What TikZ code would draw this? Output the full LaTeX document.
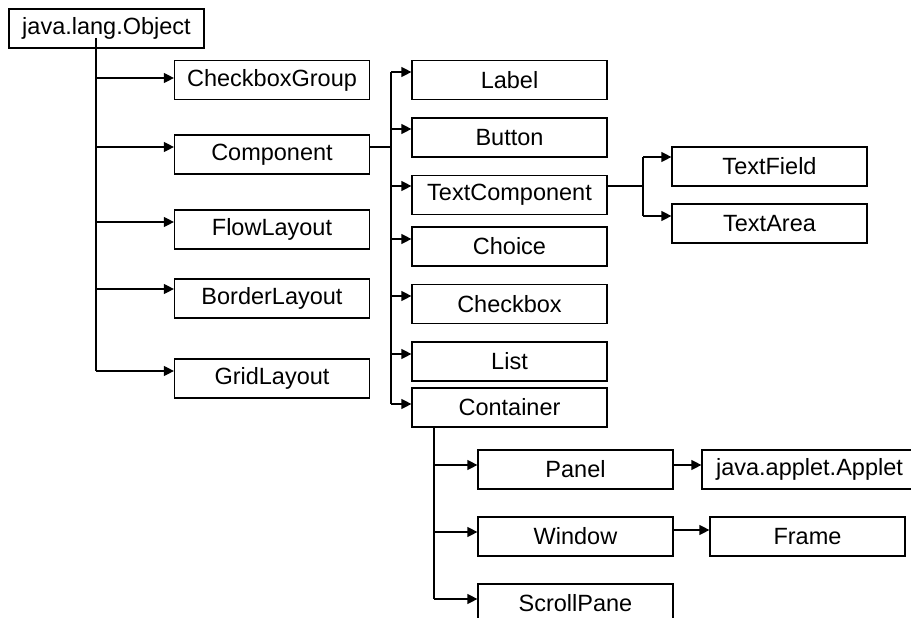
\documentclass[tikz,border=0pt]{standalone}
\usepackage{fontspec}
\setmainfont{Liberation Sans}
\usetikzlibrary{arrows.meta}
\begin{document}
\begin{tikzpicture}[x=1pt,y=-1pt,
  cls/.style={draw, line width=1.2pt, minimum width=195pt, minimum height=39pt,
    inner sep=0pt, font=\fontsize{23.5}{28}\selectfont},
  link/.style={line width=1.2pt},
  arr/.style={link, -{Triangle[length=10pt,width=10pt]}}]
\useasboundingbox (0,0) rectangle (911,618);
\clip (0,0) rectangle (911,618);

% class boxes
\node[cls] (obj)    at (106.5,28.5) {java.lang.Object};
\node[cls] (cbg)    at (272,80)     {CheckboxGroup};
\node[cls] (comp)   at (272,154.5)  {Component};
\node[cls] (flow)   at (272,229.5)  {FlowLayout};
\node[cls] (border) at (272,298.5)  {BorderLayout};
\node[cls] (grid)   at (272,378.5)  {GridLayout};

\node[cls] (label)  at (509.5,80)    {Label};
\node[cls] (button) at (509.5,137.5) {Button};
\node[cls] (tcomp)  at (509.5,195)   {TextComponent};
\node[cls] (choice) at (509.5,246.5) {Choice};
\node[cls] (chkbox) at (509.5,304)   {Checkbox};
\node[cls] (list)   at (509.5,361.5) {List};
\node[cls] (cont)   at (509.5,407.5) {Container};

\node[cls] (tfield) at (769.5,166.5) {TextField};
\node[cls] (tarea)  at (769.5,223.5) {TextArea};

\node[cls] (panel)  at (575.5,469.5) {Panel};
\node[cls] (window) at (575.5,536.5) {Window};
\node[cls] (scroll) at (575.5,603.5) {ScrollPane};

\node[cls, minimum width=215pt] (applet) at (809.5,469.5) {java.applet.Applet};
\node[cls] (frame)  at (807.5,536.5) {Frame};

% bus lines
\coordinate (objtop) at (96,38);
\coordinate (objbot) at (96,371);
\draw[link] (objtop) -- (objbot);
\draw[arr] (objtop |- 0,78)  -- (cbg.west |- 0,78);
\draw[arr] (objtop |- 0,147) -- (comp.west |- 0,147);
\draw[arr] (objtop |- 0,222) -- (flow.west |- 0,222);
\draw[arr] (objtop |- 0,289) -- (border.west |- 0,289);
\draw[arr] (objbot) -- (grid.west |- objbot);

\coordinate (cbusT) at (391,72);
\coordinate (cbusB) at (391,404);
\draw[link] (comp.east |- 0,147) -- (cbusT |- 0,147);
\draw[link] (cbusT) -- (cbusB);
\draw[arr] (cbusT) -- (label.west |- cbusT);
\draw[arr] (cbusT |- 0,129) -- (button.west |- 0,129);
\draw[arr] (cbusT |- 0,186) -- (tcomp.west |- 0,186);
\draw[arr] (cbusT |- 0,239) -- (choice.west |- 0,239);
\draw[arr] (cbusT |- 0,296) -- (chkbox.west |- 0,296);
\draw[arr] (cbusT |- 0,354) -- (list.west |- 0,354);
\draw[arr] (cbusB) -- (cont.west |- cbusB);

\coordinate (tbusT) at (643,157);
\coordinate (tbusB) at (643,216);
\draw[link] (tcomp.east |- 0,186) -- (tbusT |- 0,186);
\draw[link] (tbusT) -- (tbusB);
\draw[arr] (tbusT) -- (tfield.west |- tbusT);
\draw[arr] (tbusB) -- (tarea.west |- tbusB);

\coordinate (kbusB) at (434,599);
\draw[link] (cont.south -| kbusB) -- (kbusB);
\draw[arr] (kbusB |- 0,465) -- (panel.west |- 0,465);
\draw[arr] (kbusB |- 0,532) -- (window.west |- 0,532);
\draw[arr] (kbusB) -- (scroll.west |- kbusB);

\draw[arr] (panel.east |- 0,465) -- (applet.west |- 0,465);
\draw[arr] (window.east |- 0,530) -- (frame.west |- 0,530);
\end{tikzpicture}
\end{document}
